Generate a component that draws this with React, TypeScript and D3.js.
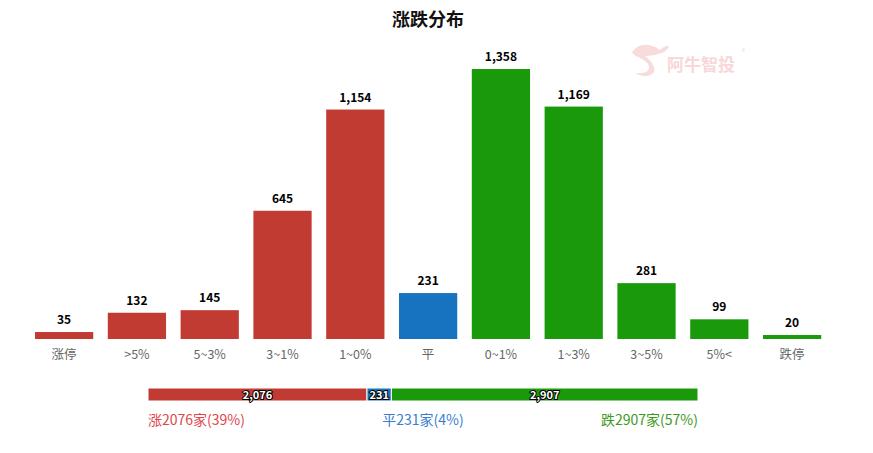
import React from "react";
import * as d3 from "d3";

const categories = ["涨停", ">5%", "5~3%", "3~1%", "1~0%", "平", "0~1%", "1~3%", "3~5%", "5%<", "跌停"];
const values = [35, 132, 145, 645, 1154, 231, 1358, 1169, 281, 99, 20];
const barColors = ["#c23b33", "#c23b33", "#c23b33", "#c23b33", "#c23b33", "#1772bf", "#1a9a0b", "#1a9a0b", "#1a9a0b", "#1a9a0b", "#1a9a0b"];

const summaryNames = ["涨", "平", "跌"];
const summaryValues = [2076, 231, 2907];
const summaryPercents = [39, 4, 57];
const summaryColors = ["#c23b33", "#1772bf", "#1a9a0b"];
const summaryTextColors = ["#e0474c", "#3a7ed0", "#3c9a1c"];

const W = 873;
const H = 453;

export default function App() {
  const x = d3.scaleBand<string>().domain(categories).range([27.72, 828.52]).paddingInner(0.2).paddingOuter(0.1);
  const y = d3.scaleLinear().domain([0, 1358]).range([339, 69]);
  const fmt = d3.format(",");

  const total = d3.sum(summaryValues);
  const sx = d3.scaleLinear().domain([0, total]).range([148, 698]);
  const cum = d3.cumsum(summaryValues);
  const starts = summaryValues.map((v, i) => (i === 0 ? 0 : cum[i - 1]));
  const font = "'Noto Sans CJK SC', 'Noto Sans', sans-serif";

  return (
    <svg width={W} height={H} style={{ position: "absolute", left: 0, top: 0, background: "#fff" }} fontFamily={font}>
      {/* watermark */}
      <g opacity={0.9}>
        <path d="M634,50 C640,42 652,44 660,50 C664,46 668,45 669,47 C666,52 660,54 655,55 L645,56 C650,60 656,66 654,72 C650,78 640,76 634,73 C640,74 648,73 649,68 C650,62 640,58 636,56 C632,54 631,52 634,50 Z" fill="#f8d8d8" />
        <text x={667} y={71} fontSize={17} fontWeight={700} fill="#f7d3d3">阿牛智投</text>
        <text x={742} y={54} fontSize={7} fill="#f7d3d3">®</text>
      </g>

      <text x={428} y={26} textAnchor="middle" fontSize={18} fontWeight={700} fill="#111">涨跌分布</text>

      {categories.map((c, i) => (
        <g key={c}>
          <rect x={x(c)} y={y(values[i])} width={x.bandwidth()} height={y(0) - y(values[i])} fill={barColors[i]} />
          <text
            x={(x(c) as number) + x.bandwidth() / 2}
            y={y(values[i]) - 8}
            textAnchor="middle"
            fontSize={12}
            fontWeight={700}
            fill="#000"
            stroke="#fff"
            strokeWidth={1}
            paintOrder="stroke"
          >
            {fmt(values[i])}
          </text>
          <text x={(x(c) as number) + x.bandwidth() / 2} y={359} textAnchor="middle" fontSize={12.5} fill="#666">
            {c}
          </text>
        </g>
      ))}

      {summaryValues.map((v, i) => (
        <g key={summaryNames[i]}>
          <rect
            x={sx(starts[i])}
            y={388}
            width={sx(starts[i] + v) - sx(starts[i])}
            height={13}
            fill={summaryColors[i]}
            stroke="#fff"
            strokeWidth={1}
          />
          <text
            x={(sx(starts[i]) + sx(starts[i] + v)) / 2}
            y={398.5}
            textAnchor="middle"
            fontSize={11}
            fontWeight={700}
            fill="#fff"
            stroke="#000"
            strokeWidth={2}
            paintOrder="stroke"
          >
            {fmt(v)}
          </text>
        </g>
      ))}

      {summaryValues.map((v, i) => {
        const anchor = i === 0 ? "start" : i === 1 ? "middle" : "end";
        const xp = i === 0 ? 148 : i === 1 ? (148 + 698) / 2 : 698;
        return (
          <text key={"l" + i} x={xp} y={425} textAnchor={anchor} fontSize={14} fill={summaryTextColors[i]}>
            {`${summaryNames[i]}${v}家(${summaryPercents[i]}%)`}
          </text>
        );
      })}
    </svg>
  );
}
